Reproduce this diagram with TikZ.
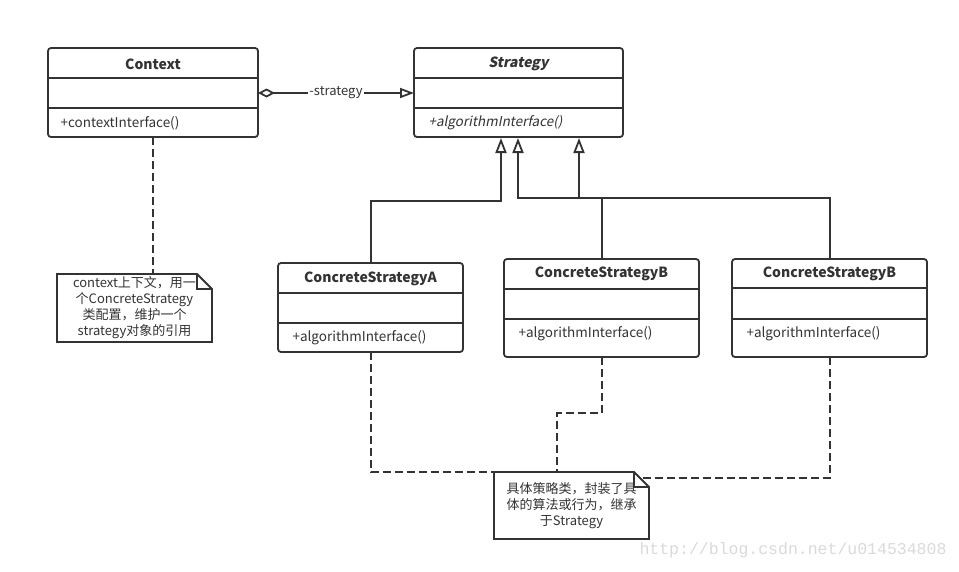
\documentclass[tikz,border=0pt]{standalone}
\usepackage{fontspec}
\setmainfont{Noto Sans CJK SC}
\newfontfamily\slantfont[FakeSlant=0.2]{Noto Sans CJK SC}
\setmonofont{Liberation Mono}
\usetikzlibrary{arrows.meta}
\definecolor{ink}{HTML}{333333}
\definecolor{wmark}{HTML}{DADADA}
\begin{document}
\begin{tikzpicture}[x=1pt,y=-1pt,
  every node/.style={text=ink},
  classbox/.style={draw=ink,line width=1.8pt,rounded corners=3pt,inner sep=0pt,outer sep=0pt,anchor=north west},
  divider/.style={draw=ink,line width=1.8pt},
  titletext/.style={font=\fontsize{14}{16}\selectfont\bfseries},
  methtext/.style={font=\fontsize{13.5}{15}\selectfont,anchor=west},
  notebox/.style={inner sep=0pt,outer sep=0pt,anchor=north west,align=center,font=\fontsize{13}{16}\selectfont},
  noteline/.style={draw=ink,line width=1.8pt,line join=miter},
  assoc/.style={draw=ink,line width=2pt},
  gen/.style={draw=ink,line width=2pt,-{Triangle[open,length=15pt,width=11pt,line width=1.8pt]}},
  notelink/.style={draw=ink,line width=2pt,dash pattern=on 8pt off 4pt}]
\useasboundingbox[fill=white] (0,0) rectangle (959,571);

% Context
\node[classbox,minimum width=210pt,minimum height=89pt] (ctx) at (48,48) {};
\draw[divider] ([yshift=-30pt]ctx.north west) -- ([yshift=-30pt]ctx.north east);
\draw[divider] ([yshift=-60pt]ctx.north west) -- ([yshift=-60pt]ctx.north east);
\node[titletext] (ctxT) at ([yshift=-16pt]ctx.north) {Context};
\node[methtext] (ctxM) at ([xshift=9pt,yshift=14pt]ctx.south west) {+contextInterface()};

% Strategy
\node[classbox,minimum width=209pt,minimum height=89pt] (strat) at (414,48) {};
\draw[divider] ([yshift=-30pt]strat.north west) -- ([yshift=-30pt]strat.north east);
\draw[divider] ([yshift=-60pt]strat.north west) -- ([yshift=-60pt]strat.north east);
\node[titletext] (stratT) at ([yshift=-16pt]strat.north) {\slantfont\bfseries Strategy};
\node[methtext] (stratM) at ([xshift=11pt,yshift=14pt]strat.south west) {\slantfont +algorithmInterface()};

% ConcreteStrategyA
\node[classbox,minimum width=185pt,minimum height=89pt] (csa) at (278,263) {};
\draw[divider] ([yshift=-30pt]csa.north west) -- ([yshift=-30pt]csa.north east);
\draw[divider] ([yshift=-60pt]csa.north west) -- ([yshift=-60pt]csa.north east);
\node[titletext] (csaT) at ([yshift=-16pt]csa.north) {ConcreteStrategyA};
\node[methtext] (csaM) at ([xshift=11pt,yshift=14pt]csa.south west) {+algorithmInterface()};

% ConcreteStrategyB (middle)
\node[classbox,minimum width=195pt,minimum height=98pt] (csb) at (504,259) {};
\draw[divider] ([yshift=-30pt]csb.north west) -- ([yshift=-30pt]csb.north east);
\draw[divider] ([yshift=-60pt]csb.north west) -- ([yshift=-60pt]csb.north east);
\node[titletext] (csbT) at ([yshift=-15pt]csb.north) {ConcreteStrategyB};
\node[methtext] (csbM) at ([xshift=11pt,yshift=23pt]csb.south west) {+algorithmInterface()};

% ConcreteStrategyB (right)
\node[classbox,minimum width=195pt,minimum height=98pt] (csc) at (732,259) {};
\draw[divider] ([yshift=-29pt]csc.north west) -- ([yshift=-29pt]csc.north east);
\draw[divider] ([yshift=-60pt]csc.north west) -- ([yshift=-60pt]csc.north east);
\node[titletext] (cscT) at ([yshift=-15pt]csc.north) {ConcreteStrategyB};
\node[methtext] (cscM) at ([xshift=11pt,yshift=23pt]csc.south west) {+algorithmInterface()};

% Notes
\node[notebox,minimum width=155pt,minimum height=68pt] (note1) at (57,274)
  {context上下文，用一\\个ConcreteStrategy\\类配置，维护一个\\strategy对象的引用};
\draw[noteline] (note1.north west) -- ([xshift=-15pt]note1.north east) -- ([yshift=-15pt]note1.north east)
  -- (note1.south east) -- (note1.south west) -- cycle;
\draw[noteline] ([xshift=-15pt]note1.north east) -- ([xshift=-15pt,yshift=-15pt]note1.north east) -- ([yshift=-15pt]note1.north east);

\node[notebox,minimum width=155pt,minimum height=67pt] (note2) at (494,472)
  {具体策略类，封装了具\\体的算法或行为，继承\\于Strategy};
\draw[noteline] (note2.north west) -- ([xshift=-15pt]note2.north east) -- ([yshift=-15pt]note2.north east)
  -- (note2.south east) -- (note2.south west) -- cycle;
\draw[noteline] ([xshift=-15pt]note2.north east) -- ([xshift=-15pt,yshift=-15pt]note2.north east) -- ([yshift=-15pt]note2.north east);

% Aggregation
\draw[assoc,{Diamond[open,length=17pt,width=9pt,line width=1.8pt]}-{Triangle[open,length=14pt,width=10pt,line width=1.8pt]}]
  ([yshift=-45pt]ctx.north east) -- node[fill=white,inner sep=1pt,font=\fontsize{13}{15}\selectfont] (lbl) {-strategy} ([yshift=-45pt]strat.north west);

% Generalizations
\coordinate (ga) at (501,201);
\coordinate (gb) at (518,198);
\coordinate (gc) at (579,198);
\draw[gen] (csa.north) |- (ga) -- ([xshift=87pt,yshift=-1pt]strat.south west);
\draw[gen] (csb.north) |- (gb) -- ([xshift=104pt,yshift=-1pt]strat.south west);
\draw[gen] (csc.north) |- (gc) -- ([xshift=165pt,yshift=-1pt]strat.south west);

% Note links
\draw[notelink] (ctx.south) -- (ctx.south |- note1.north);
\draw[notelink] (csa.south) |- (note2.north west);
\coordinate (nb) at (557,413);
\draw[notelink] (csb.south) |- (nb) -- (nb |- note2.north);
\coordinate (nc) at (640,478);
\draw[notelink] (csc.south) |- (nc);

% Watermark
\node[text=wmark,font=\ttfamily\fontsize{16.5}{18}\selectfont] (wm) at (793,550) {http://blog.csdn.net/u014534808};
\end{tikzpicture}
\end{document}
